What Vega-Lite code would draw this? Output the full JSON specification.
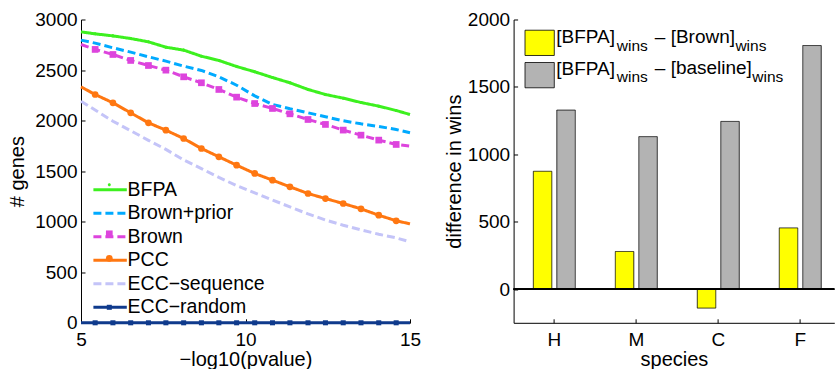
{
 "$schema": "https://vega.github.io/schema/vega-lite/v6.json",
 "padding": {"left": 7, "top": 10.5, "right": 0, "bottom": 0},
 "config": {
  "font": "Liberation Sans",
  "view": {"stroke": null},
  "axis": {"domainColor": "#000000", "tickColor": "#000000", "labelColor": "#000000", "titleColor": "#000000", "labelFontSize": 19, "titleFontSize": 20, "titleFontWeight": "normal", "grid": false, "tickSize": -4, "domainWidth": 1, "tickWidth": 1, "labelFont": "Liberation Sans", "titleFont": "Liberation Sans"},
  "legend": {"labelFont": "Liberation Sans", "labelColor": "#000000"}
 },
 "datasets": {
  "curves": [
   {"x":5,"genes":2878,"series":"BFPA"},{"x":5.43,"genes":2858,"series":"BFPA"},{"x":5.97,"genes":2838,"series":"BFPA"},{"x":6.51,"genes":2812,"series":"BFPA"},{"x":7.05,"genes":2779,"series":"BFPA"},{"x":7.58,"genes":2726,"series":"BFPA"},{"x":8.12,"genes":2697,"series":"BFPA"},{"x":8.66,"genes":2637,"series":"BFPA"},{"x":9.19,"genes":2595,"series":"BFPA"},{"x":9.73,"genes":2535,"series":"BFPA"},{"x":10.28,"genes":2483,"series":"BFPA"},{"x":10.82,"genes":2426,"series":"BFPA"},{"x":11.35,"genes":2374,"series":"BFPA"},{"x":11.9,"genes":2308,"series":"BFPA"},{"x":12.43,"genes":2258,"series":"BFPA"},{"x":12.97,"genes":2222,"series":"BFPA"},{"x":13.51,"genes":2179,"series":"BFPA"},{"x":14.05,"genes":2143,"series":"BFPA"},{"x":14.58,"genes":2100,"series":"BFPA"},{"x":15,"genes":2060,"series":"BFPA"},
   {"x":5,"genes":2796,"series":"Brown+prior"},{"x":5.43,"genes":2766,"series":"Brown+prior"},{"x":5.97,"genes":2720,"series":"Brown+prior"},{"x":6.51,"genes":2677,"series":"Brown+prior"},{"x":7.05,"genes":2631,"series":"Brown+prior"},{"x":7.58,"genes":2588,"series":"Brown+prior"},{"x":8.12,"genes":2539,"series":"Brown+prior"},{"x":8.66,"genes":2496,"series":"Brown+prior"},{"x":9.19,"genes":2433,"series":"Brown+prior"},{"x":9.73,"genes":2350,"series":"Brown+prior"},{"x":10.28,"genes":2245,"series":"Brown+prior"},{"x":10.82,"genes":2160,"series":"Brown+prior"},{"x":11.35,"genes":2117,"series":"Brown+prior"},{"x":11.9,"genes":2077,"series":"Brown+prior"},{"x":12.43,"genes":2038,"series":"Brown+prior"},{"x":12.97,"genes":1998,"series":"Brown+prior"},{"x":13.51,"genes":1968,"series":"Brown+prior"},{"x":14.05,"genes":1942,"series":"Brown+prior"},{"x":14.58,"genes":1912,"series":"Brown+prior"},{"x":15,"genes":1879,"series":"Brown+prior"},
   {"x":5,"genes":2753,"series":"Brown"},{"x":5.43,"genes":2704,"series":"Brown"},{"x":5.97,"genes":2654,"series":"Brown"},{"x":6.51,"genes":2595,"series":"Brown"},{"x":7.05,"genes":2545,"series":"Brown"},{"x":7.58,"genes":2499,"series":"Brown"},{"x":8.12,"genes":2433,"series":"Brown"},{"x":8.66,"genes":2374,"series":"Brown"},{"x":9.19,"genes":2308,"series":"Brown"},{"x":9.73,"genes":2232,"series":"Brown"},{"x":10.28,"genes":2169,"series":"Brown"},{"x":10.82,"genes":2120,"series":"Brown"},{"x":11.35,"genes":2067,"series":"Brown"},{"x":11.9,"genes":2011,"series":"Brown"},{"x":12.43,"genes":1962,"series":"Brown"},{"x":12.97,"genes":1906,"series":"Brown"},{"x":13.51,"genes":1856,"series":"Brown"},{"x":14.05,"genes":1807,"series":"Brown"},{"x":14.58,"genes":1764,"series":"Brown"},{"x":15,"genes":1747,"series":"Brown"},
   {"x":5,"genes":2334,"series":"PCC"},{"x":5.43,"genes":2258,"series":"PCC"},{"x":5.97,"genes":2176,"series":"PCC"},{"x":6.51,"genes":2077,"series":"PCC"},{"x":7.05,"genes":1978,"series":"PCC"},{"x":7.58,"genes":1905,"series":"PCC"},{"x":8.12,"genes":1823,"series":"PCC"},{"x":8.66,"genes":1724,"series":"PCC"},{"x":9.19,"genes":1642,"series":"PCC"},{"x":9.73,"genes":1559,"series":"PCC"},{"x":10.28,"genes":1477,"series":"PCC"},{"x":10.82,"genes":1411,"series":"PCC"},{"x":11.35,"genes":1345,"series":"PCC"},{"x":11.9,"genes":1279,"series":"PCC"},{"x":12.43,"genes":1229,"series":"PCC"},{"x":12.97,"genes":1180,"series":"PCC"},{"x":13.51,"genes":1127,"series":"PCC"},{"x":14.05,"genes":1064,"series":"PCC"},{"x":14.58,"genes":1009,"series":"PCC"},{"x":15,"genes":979,"series":"PCC"},
   {"x":5,"genes":2192,"series":"ECC−sequence"},{"x":5.43,"genes":2105,"series":"ECC−sequence"},{"x":5.97,"genes":1994,"series":"ECC−sequence"},{"x":6.51,"genes":1900,"series":"ECC−sequence"},{"x":7.05,"genes":1805,"series":"ECC−sequence"},{"x":7.58,"genes":1715,"series":"ECC−sequence"},{"x":8.12,"genes":1611,"series":"ECC−sequence"},{"x":8.66,"genes":1525,"series":"ECC−sequence"},{"x":9.19,"genes":1438,"series":"ECC−sequence"},{"x":9.73,"genes":1357,"series":"ECC−sequence"},{"x":10.28,"genes":1286,"series":"ECC−sequence"},{"x":10.82,"genes":1215,"series":"ECC−sequence"},{"x":11.35,"genes":1146,"series":"ECC−sequence"},{"x":11.9,"genes":1077,"series":"ECC−sequence"},{"x":12.43,"genes":1017,"series":"ECC−sequence"},{"x":12.97,"genes":965,"series":"ECC−sequence"},{"x":13.51,"genes":919,"series":"ECC−sequence"},{"x":14.05,"genes":876,"series":"ECC−sequence"},{"x":14.58,"genes":840,"series":"ECC−sequence"},{"x":15,"genes":801,"series":"ECC−sequence"},
   {"x":5,"genes":0,"series":"ECC−random"},{"x":5.43,"genes":0,"series":"ECC−random"},{"x":5.97,"genes":0,"series":"ECC−random"},{"x":6.51,"genes":0,"series":"ECC−random"},{"x":7.05,"genes":0,"series":"ECC−random"},{"x":7.58,"genes":0,"series":"ECC−random"},{"x":8.12,"genes":0,"series":"ECC−random"},{"x":8.66,"genes":0,"series":"ECC−random"},{"x":9.19,"genes":0,"series":"ECC−random"},{"x":9.73,"genes":0,"series":"ECC−random"},{"x":10.28,"genes":0,"series":"ECC−random"},{"x":10.82,"genes":0,"series":"ECC−random"},{"x":11.35,"genes":0,"series":"ECC−random"},{"x":11.9,"genes":0,"series":"ECC−random"},{"x":12.43,"genes":0,"series":"ECC−random"},{"x":12.97,"genes":0,"series":"ECC−random"},{"x":13.51,"genes":0,"series":"ECC−random"},{"x":14.05,"genes":0,"series":"ECC−random"},{"x":14.58,"genes":0,"series":"ECC−random"},{"x":15,"genes":0,"series":"ECC−random"}
  ],
  "wins": [
   {"species":"H","series":"vs Brown","value":874},{"species":"H","series":"vs baseline","value":1328},
   {"species":"M","series":"vs Brown","value":279},{"species":"M","series":"vs baseline","value":1131},
   {"species":"C","series":"vs Brown","value":-141},{"species":"C","series":"vs baseline","value":1244},
   {"species":"F","series":"vs Brown","value":454},{"species":"F","series":"vs baseline","value":1807}
  ]
 },
 "bounds": "flush",
 "spacing": 103.6,
 "resolve": {
  "scale": {"x": "independent", "y": "independent", "xOffset": "independent", "color": "independent", "fill": "independent", "stroke": "independent", "strokeDash": "independent", "shape": "independent", "strokeWidth": "independent", "opacity": "independent"},
  "legend": {"color": "independent", "fill": "independent", "stroke": "independent", "strokeDash": "independent", "shape": "independent", "strokeWidth": "independent", "opacity": "independent"}
 },
 "hconcat": [
  {
   "width": 329, "height": 303.3,
   "data": {"name": "curves"},
   "layer": [
    {
     "mark": {"type": "line", "strokeWidth": 3},
     "encoding": {
      "x": {"field": "x", "type": "quantitative", "scale": {"domain": [5, 15], "nice": false, "zero": false}, "axis": {"values": [5, 10, 15], "format": "d", "title": "−log10(pvalue)", "labelFlush": false, "labelPadding": 12, "titlePadding": 0}},
      "y": {"field": "genes", "type": "quantitative", "scale": {"domain": [0, 3000], "nice": false}, "axis": {"values": [0, 500, 1000, 1500, 2000, 2500, 3000], "format": "d", "title": "# genes", "labelPadding": 8, "titlePadding": 7.5}},
      "color": {"field": "series", "type": "nominal",
       "scale": {"domain": ["BFPA", "Brown+prior", "Brown", "PCC", "ECC−sequence", "ECC−random"], "range": ["#3df01f", "#00aaff", "#dd44dd", "#ff7711", "#c4c4f8", "#0f3a8c"]},
       "legend": {"orient": "none", "legendX": 17.6, "legendY": 158.8, "title": null, "symbolType": "M-1.67,0H1.67", "symbolSize": 400, "symbolStrokeWidth": 3, "labelFontSize": 19.5, "labelOffset": 6, "rowPadding": 2.5, "padding": 0}},
      "strokeDash": {"field": "series", "type": "nominal",
       "scale": {"domain": ["BFPA", "Brown+prior", "Brown", "PCC", "ECC−sequence", "ECC−random"], "range": [[1, 0], [8, 4], [8, 4], [1, 0], [8, 4], [1, 0]]},
       "legend": {"orient": "none", "legendX": 17.6, "legendY": 158.8, "title": null, "symbolType": "M-1.67,0H1.67", "symbolSize": 400, "symbolStrokeWidth": 3, "labelFontSize": 19.5, "labelOffset": 6, "rowPadding": 2.5, "padding": 0}}
     }
    },
    {
     "transform": [{"filter": "datum.x > 5 && datum.x < 15"}],
     "mark": {"type": "point", "filled": true, "size": 45, "opacity": 1, "strokeWidth": 0},
     "encoding": {
      "x": {"field": "x", "type": "quantitative"},
      "y": {"field": "genes", "type": "quantitative"},
      "fill": {"field": "series", "type": "nominal", "sort": {"field": "genes", "op": "max", "order": "descending"},
       "scale": {"range": ["#3df01f", "#00aaff", "#dd44dd", "#ff7711", "#c4c4f8", "#0f3a8c"]},
       "legend": {"orient": "none", "legendX": 16.8, "legendY": 153.8, "title": null, "symbolSize": 45, "symbolStrokeWidth": 0, "labelFontSize": 23, "labelColor": "transparent", "rowPadding": 0.5, "padding": 0}},
      "shape": {"field": "series", "type": "nominal", "sort": {"field": "genes", "op": "max", "order": "descending"},
       "scale": {"range": ["M0.45,0A0.45,0.45,0,1,1,-0.45,0A0.45,0.45,0,1,1,0.45,0Z", "M0,0Z", "square", "circle", "M0,0Z", "M-0.75,-0.75H0.75V0.75H-0.75Z"]},
       "legend": {"orient": "none", "legendX": 16.8, "legendY": 153.8, "title": null, "symbolSize": 45, "symbolStrokeWidth": 0, "labelFontSize": 23, "labelColor": "transparent", "rowPadding": 0.5, "padding": 0}}
     }
    }
   ]
  },
  {
   "width": 320.7, "height": 303.3,
   "data": {"name": "wins"},
   "layer": [
    {
     "mark": {"type": "bar"},
     "encoding": {
      "x": {"field": "species", "type": "nominal", "sort": ["H", "M", "C", "F"], "scale": {"paddingInner": 0.488, "paddingOuter": 0.2, "align": 0.602}, "axis": {"title": "species", "labelAngle": 0, "labelPadding": 12, "titlePadding": 0}},
      "xOffset": {"field": "series", "type": "nominal", "scale": {"paddingInner": 0.213, "paddingOuter": 0}},
      "y": {"field": "value", "type": "quantitative", "scale": {"domain": [-250, 2000], "nice": false, "zero": false}, "axis": {"values": [0, 500, 1000, 1500, 2000], "format": "d", "title": "difference in wins", "labelPadding": 8, "titlePadding": 3}},
      "fill": {"field": "series", "type": "nominal", "scale": {"range": ["#ffff00", "#b3b3b3"]},
       "legend": {"orient": "none", "legendX": 10.55, "legendY": 7.85, "title": null, "symbolType": "M-1,-0.863H1V0.863H-1Z", "symbolSize": 858, "symbolStrokeWidth": 0.8, "symbolStrokeColor": "#000000", "labelExpr": "'[BFPA]'", "labelFontSize": 19, "labelBaseline": "alphabetic", "labelOffset": 1.15, "rowPadding": 2.3, "padding": 0}},
      "stroke": {"field": "series", "type": "nominal", "scale": {"domain": ["vs Brown", "vs baseline"], "range": ["#000000", "#000000"]},
       "legend": {"orient": "none", "legendX": 10.55, "legendY": 15.55, "title": null, "symbolType": "M-1,-0.863H1V0.863H-1Z", "symbolSize": 858, "symbolStrokeWidth": 0.8, "symbolOpacity": 0, "labelExpr": "'wins'", "labelFontSize": 15.5, "labelBaseline": "alphabetic", "labelOffset": 61.65, "rowPadding": 2.3, "padding": 0}},
      "strokeWidth": {"field": "series", "type": "ordinal", "sort": {"field": "value", "op": "max"}, "scale": {"range": [0.8, 0.8]},
       "legend": {"orient": "none", "legendX": 10.55, "legendY": 7.85, "title": null, "symbolType": "M-1,-0.863H1V0.863H-1Z", "symbolSize": 858, "symbolStrokeWidth": 0.8, "symbolOpacity": 0, "labelExpr": "datum.label == 'vs Brown' ? '– [Brown]' : '– [baseline]'", "labelFontSize": 19, "labelBaseline": "alphabetic", "labelOffset": 99.65, "rowPadding": 2.3, "padding": 0}},
      "opacity": {"field": "series", "type": "ordinal", "sort": {"field": "value", "op": "min"}, "scale": {"range": [1, 1]},
       "legend": {"orient": "none", "legendX": 10.55, "legendY": 15.55, "title": null, "symbolType": "M-1,-0.863H1V0.863H-1Z", "symbolSize": 858, "symbolStrokeWidth": 0.8, "symbolFillColor": "transparent", "symbolStrokeColor": "transparent", "labelExpr": "datum.label == 'vs Brown' ? 'wins' : ''", "labelFontSize": 15.5, "labelBaseline": "alphabetic", "labelOffset": 180.25, "rowPadding": 2.3, "padding": 0}},
      "strokeDash": {"field": "series", "type": "nominal", "sort": {"field": "value", "op": "median"}, "scale": {"range": [[1, 0], [1, 0]]},
       "legend": {"orient": "none", "legendX": 10.55, "legendY": 15.55, "title": null, "symbolType": "M-1,-0.863H1V0.863H-1Z", "symbolSize": 858, "symbolStrokeWidth": 0.8, "symbolOpacity": 0, "symbolFillColor": "transparent", "symbolStrokeColor": "transparent", "labelExpr": "datum.label == 'vs baseline' ? 'wins' : ''", "labelFontSize": 15.5, "labelBaseline": "alphabetic", "labelOffset": 197.15, "rowPadding": 2.3, "padding": 0}}
     }
    },
    {
     "mark": {"type": "rule", "color": "#000000", "strokeWidth": 1},
     "encoding": {"y": {"datum": 0}}
    }
   ]
  }
 ]
}
